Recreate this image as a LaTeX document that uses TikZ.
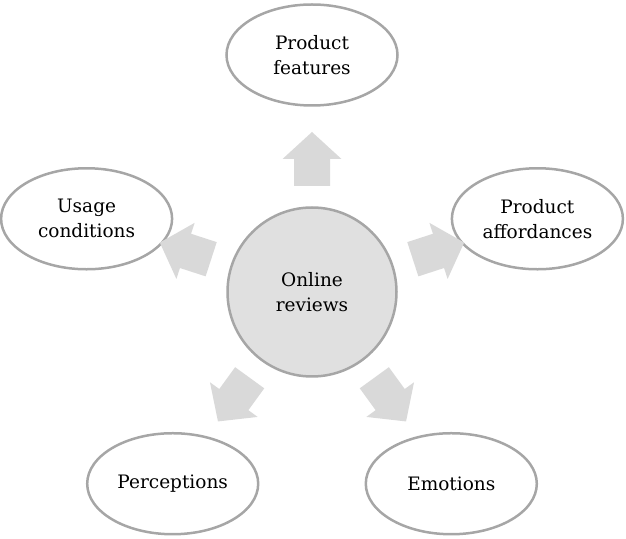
\documentclass[tikz,border=0pt]{standalone}
\usepackage{fontspec}
\setmainfont{DejaVu Serif}
\usetikzlibrary{calc}
\usetikzlibrary{shapes.geometric}
\definecolor{rimgray}{RGB}{166,166,166}
\definecolor{hubgray}{RGB}{224,224,224}
\definecolor{arrowgray}{RGB}{217,217,217}
\tikzset{
  topic/.style={ellipse, draw=rimgray, line width=2.5pt, minimum width=171pt,
    minimum height=101pt, inner sep=0pt, align=center,
    font=\fontsize{18.5}{25}\selectfont},
  hub/.style={circle, draw=rimgray, fill=hubgray, line width=2.5pt,
    minimum size=169pt, inner sep=0pt, align=center,
    font=\fontsize{18.5}{25}\selectfont},
  blockarrow/.style={fill=arrowgray}
}

\begin{document}
\begin{tikzpicture}[x=1pt,y=1pt]
    \useasboundingbox (0,0) rectangle (626,538);

    % Draw the central circle
    \node[hub] (rev) at (312,246) {Online\\reviews};

    % Draw the five outer ellipses
    \node[topic] (feat) at ($(rev)+(90:237)$) {Product\\features};
    \node[topic] (afford) at ($(rev)+(18:237)$) {Product\\affordances};
    \node[topic] (emot) at ($(rev)+(-54:237)$) {Emotions};
    \node[topic] (percep) at ($(rev)+(-126:237)$) {Perceptions};
    \node[topic] (usage) at ($(rev)+(162:237)$) {Usage\\conditions};

    % Block arrows pointing outwards
    \foreach \ang in {90,18,-54,-126,162}
        \fill[blockarrow, shift={(rev.center)}, rotate=\ang]
            (106,-18) -- (133,-18) -- (133,-29.5) -- (160,0)
            -- (133,29.5) -- (133,18) -- (106,18) -- cycle;

\end{tikzpicture}
\end{document}
